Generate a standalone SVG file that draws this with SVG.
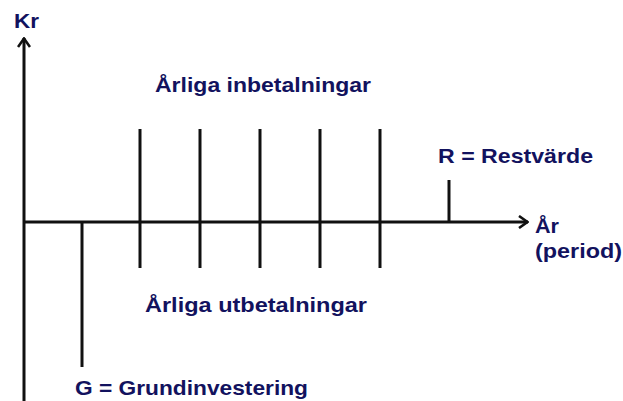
<svg xmlns="http://www.w3.org/2000/svg" width="623" height="401" viewBox="0 0 623 401">
<defs>
<marker id="arr" viewBox="0 0 12 14" refX="11" refY="7" markerWidth="12" markerHeight="14" markerUnits="userSpaceOnUse" orient="auto">
<path d="M2,1 L10.5,7 L2,13" fill="none" stroke="#111" stroke-width="2.6"/>
</marker>
<style>
.ln{stroke:#111;stroke-width:3;fill:none}
.t{font-family:"Liberation Sans",Arial,sans-serif;font-weight:bold;font-size:21px;fill:#12125e}
</style>
</defs>
<g id="connectors">
<line class="ln" x1="24" y1="401" x2="24" y2="38" marker-end="url(#arr)"/>
<line class="ln" x1="24" y1="222" x2="528" y2="222" marker-end="url(#arr)"/>
</g>
<g id="grundinvestering">
<line class="ln" x1="82" y1="222" x2="82" y2="367"/>
<text class="t" x="75" y="395" textLength="233" lengthAdjust="spacingAndGlyphs">G = Grundinvestering</text>
</g>
<g id="bars">
<line class="ln" x1="140" y1="129" x2="140" y2="268"/>
<line class="ln" x1="200" y1="129" x2="200" y2="268"/>
<line class="ln" x1="260" y1="129" x2="260" y2="268"/>
<line class="ln" x1="320" y1="129" x2="320" y2="268"/>
<line class="ln" x1="380" y1="129" x2="380" y2="268"/>
</g>
<g id="restvarde">
<line class="ln" x1="449" y1="180" x2="449" y2="222"/>
<text class="t" x="438" y="163" textLength="155" lengthAdjust="spacingAndGlyphs">R = Restvärde</text>
</g>
<g id="labels">
<text class="t" x="14" y="28" textLength="25" lengthAdjust="spacingAndGlyphs">Kr</text>
<text class="t" x="155" y="92" textLength="216" lengthAdjust="spacingAndGlyphs">Årliga inbetalningar</text>
<text class="t" x="145" y="312" textLength="222" lengthAdjust="spacingAndGlyphs">Årliga utbetalningar</text>
<text class="t" x="535" y="233" textLength="24" lengthAdjust="spacingAndGlyphs">År</text>
<text class="t" x="535" y="258" textLength="87" lengthAdjust="spacingAndGlyphs">(period)</text>
</g>
</svg>
